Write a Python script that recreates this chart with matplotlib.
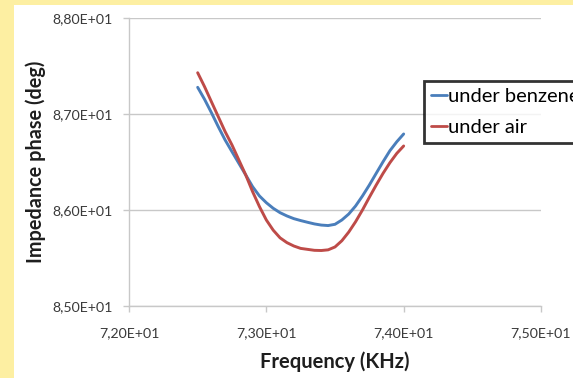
import matplotlib
matplotlib.use("Agg")
import matplotlib.pyplot as plt
from matplotlib.ticker import FuncFormatter

plt.rcParams['font.family'] = ['Lato', 'DejaVu Sans']

freq = [72.5, 72.55, 72.6, 72.65, 72.7, 72.75, 72.8, 72.85, 72.9, 72.95,
        73.0, 73.05, 73.1, 73.15, 73.2, 73.25, 73.3, 73.35, 73.4, 73.45,
        73.5, 73.55, 73.6, 73.65, 73.7, 73.75, 73.8, 73.85, 73.9, 73.95, 74.0]
benzene = [87.278, 87.153, 87.014, 86.868, 86.729, 86.607, 86.486, 86.365, 86.243, 86.146,
           86.076, 86.018, 85.972, 85.938, 85.910, 85.890, 85.872, 85.855, 85.843, 85.838,
           85.851, 85.896, 85.958, 86.042, 86.146, 86.260, 86.382, 86.503, 86.618, 86.711, 86.792]
air = [87.430, 87.285, 87.128, 86.972, 86.816, 86.677, 86.521, 86.365, 86.191, 86.035,
       85.896, 85.790, 85.710, 85.660, 85.625, 85.600, 85.590, 85.580, 85.578, 85.585,
       85.615, 85.680, 85.770, 85.878, 86.000, 86.132, 86.260, 86.382, 86.493, 86.590, 86.667]
series_names = ["under benzene", "under air"]
xticks = [72.0, 73.0, 74.0, 75.0]
yticks = [85.0, 86.0, 87.0, 88.0]

W, H = 573, 378
fig = plt.figure(figsize=(W / 100, H / 100), dpi=100)
fig.patch.set_facecolor('#FDEFA2')
bg = fig.add_axes([14 / W, 0, 1 - 14 / W, 1 - 5 / H], zorder=-5)
bg.set_facecolor('white')
bg.set_xticks([])
bg.set_yticks([])
for s in bg.spines.values():
    s.set_visible(False)

ax = fig.add_axes([129 / W, 1 - 306 / H, (541 - 129) / W, (306 - 18) / H], zorder=1)
ax.patch.set_alpha(0)
ax.plot(freq, benzene, color='#4A7EBB', lw=2.1, label=series_names[0],
        solid_capstyle='round', solid_joinstyle='round')
ax.plot(freq, air, color='#BE4B48', lw=2.1, label=series_names[1],
        solid_capstyle='round', solid_joinstyle='round')

ax.set_xlim(xticks[0], xticks[-1])
ax.set_ylim(yticks[0], yticks[-1])
ax.set_xticks(xticks)
ax.set_yticks(yticks)


def sci_comma(v, pos):
    s = f"{v:.2E}"
    return s.replace('.', ',')


ax.xaxis.set_major_formatter(FuncFormatter(sci_comma))
ax.yaxis.set_major_formatter(FuncFormatter(sci_comma))

ax.grid(axis='y', color='#C8C8C8', lw=1.0)
ax.set_axisbelow(True)
for s in ['top', 'right']:
    ax.spines[s].set_visible(False)
for s in ['left', 'bottom']:
    ax.spines[s].set_color('#C8C8C8')
    ax.spines[s].set_linewidth(1.0)
ax.tick_params(axis='both', colors='#C8C8C8', labelcolor='#3A3A3A', labelsize=10.2,
               length=4, width=1.0, direction='out')
ax.tick_params(axis='y', pad=8)
ax.tick_params(axis='x', pad=11)

ax.set_xlabel("Frequency (KHz)", fontsize=14.5, fontweight='bold', color='#1E1E1E', labelpad=9)
ax.set_ylabel("Impedance phase (deg)", fontsize=14.3, fontweight='bold', color='#1E1E1E', labelpad=4)

leg = fig.legend(loc='upper left', bbox_to_anchor=(424 / W, 1 - 81 / H),
                 fontsize=14.5, frameon=True, fancybox=False, handlelength=0.8,
                 handletextpad=0.05, borderpad=0.35, labelspacing=0.7,
                 borderaxespad=0)
leg.get_frame().set_edgecolor('black')
leg.get_frame().set_linewidth(2.0)
for line in leg.get_lines():
    line.set_linewidth(2.0)

fig.savefig('out.png', dpi=100, facecolor=fig.get_facecolor())
